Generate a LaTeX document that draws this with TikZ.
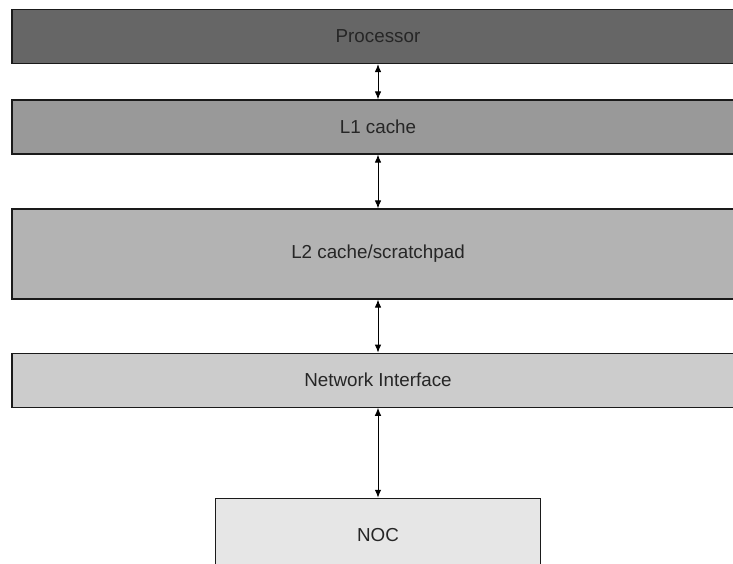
\documentclass[tikz,border=0pt]{standalone}
\usepackage{fontspec}
\setmainfont{Liberation Sans}
\usetikzlibrary{arrows.meta}
\definecolor{cProc}{HTML}{666666}
\definecolor{cLone}{HTML}{999999}
\definecolor{cLtwo}{HTML}{B3B3B3}
\definecolor{cNI}{HTML}{CCCCCC}
\definecolor{cNOC}{HTML}{E6E6E6}
\definecolor{txt}{HTML}{262626}
\definecolor{edge}{HTML}{1A1A1A}
\begin{document}
\begin{tikzpicture}[x=1pt,y=-1pt,
  layer/.style={draw=edge, line width=1.1pt, minimum width=732pt, inner sep=0pt,
    font=\fontsize{18.8}{22}\selectfont, text=txt},
  link/.style={{Latex[length=8pt,width=6.5pt]}-{Latex[length=8pt,width=6.5pt]}, line width=1pt, black}]
\clip (0,0) rectangle (733,564);
\useasboundingbox (0,0) rectangle (733,564);
\fill[white] (0,0) rectangle (733,564);
\node[layer, fill=cProc, minimum height=54pt] (proc) at (378,36.5) {Processor};
\node[layer, fill=cLone, minimum height=54pt] (l1) at (378,127) {L1 cache};
\node[layer, fill=cLtwo, minimum height=90pt] (l2) at (378,254) {L2 cache/scratchpad};
\node[layer, fill=cNI, minimum height=54pt] (ni) at (378,380.2) {Network Interface};
\node[layer, fill=cNOC, minimum height=74pt, minimum width=325pt] (noc) at (378,535.3) {NOC};
\draw[link] (proc.south) -- (l1.north);
\draw[link] (l1.south) -- (l2.north);
\draw[link] (l2.south) -- (ni.north);
\draw[link] (ni.south) -- (noc.north);
\end{tikzpicture}
\end{document}
